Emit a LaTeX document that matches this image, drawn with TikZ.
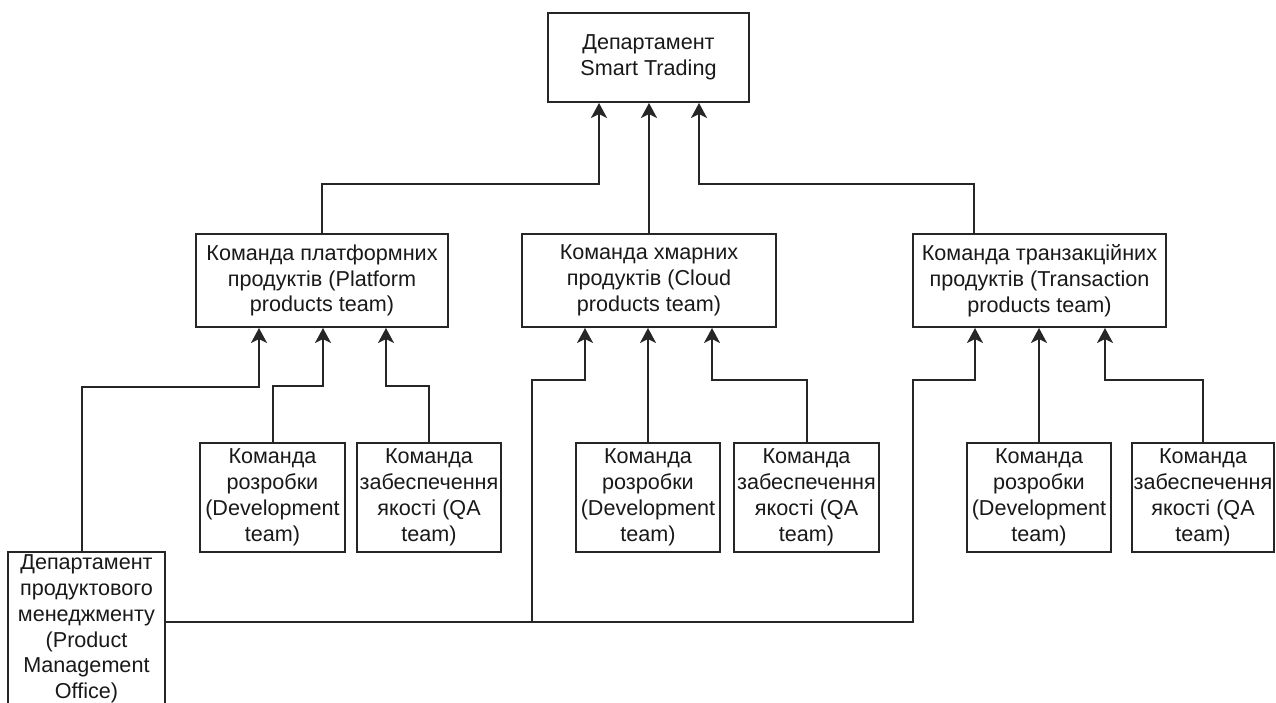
\documentclass[tikz,border=0pt]{standalone}
\usepackage{fontspec}
\setmainfont{Liberation Sans}
\usetikzlibrary{arrows.meta,calc}

\tikzset{
  box/.style={draw=black!85, line width=2pt, fill=white, inner sep=0pt,
    align=center, text=black!90, font=\fontsize{21.6}{25.8}\selectfont},
  link/.style={draw=black!85, line width=2pt},
  arr/.style={link, -{Stealth[length=15pt, width=16pt, inset=4pt]}}
}

\begin{document}
\begin{tikzpicture}[x=1pt, y=-1pt]
\useasboundingbox (0,0) rectangle (1276,703);

% department
\node[box, minimum width=201pt, minimum height=89pt] (top) at (648.5,57.5)
  {Департамент\\Smart Trading};

% product teams
\node[box, minimum width=252pt, minimum height=93pt] (plat) at (322,280.5)
  {Команда платформних\\продуктів (Platform\\products team)};
\node[box, minimum width=254pt, minimum height=93pt] (cloud) at (649,280.5)
  {Команда хмарних\\продуктів (Cloud\\products team)};
\node[box, minimum width=253pt, minimum height=93pt] (trans) at (1039.5,280.5)
  {Команда транзакційних\\продуктів (Transaction\\products team)};

% development and QA teams
\node[box, minimum width=145pt, minimum height=109pt] (dev1) at (272.5,497.5)
  {Команда\\розробки\\(Development\\team)};
\node[box, minimum width=144pt, minimum height=109pt] (qa1) at (429,497.5)
  {Команда\\забеспечення\\якості (QA\\team)};
\node[box, minimum width=144pt, minimum height=109pt] (dev2) at (648,497.5)
  {Команда\\розробки\\(Development\\team)};
\node[box, minimum width=145pt, minimum height=109pt] (qa2) at (806.5,497.5)
  {Команда\\забеспечення\\якості (QA\\team)};
\node[box, minimum width=144pt, minimum height=109pt] (dev3) at (1039,497.5)
  {Команда\\розробки\\(Development\\team)};
\node[box, minimum width=142pt, minimum height=109pt] (qa3) at (1203,497.5)
  {Команда\\забеспечення\\якості (QA\\team)};

% product management office
\node[box, minimum width=157pt, minimum height=154pt] (pmo) at (86.5,629)
  {Департамент\\продуктового\\менеджменту\\(Product\\Management\\Office)};

% elbow points
\coordinate (e1) at (599,184);
\coordinate (e3) at (699,184);
\coordinate (p1) at (259,387);
\coordinate (p2) at (323,386);
\coordinate (p3) at (386,386);
\coordinate (c1) at (585,380);
\coordinate (c3) at (712,380);
\coordinate (t1) at (975,380);
\coordinate (t3) at (1105,380);
\coordinate (pmoR) at ($(pmo.east)+(0,-7)$);
\coordinate (j1) at (532,0);
\coordinate (j2) at (913,0);

% teams to department
\draw[arr] (plat.north) |- (e1) -- (e1 |- top.south);
\draw[arr] (cloud.north) -- (cloud.north |- top.south);
\draw[arr] ($(trans.north)+(-65.5,0)$) |- (e3) -- (e3 |- top.south);

% platform products
\draw[arr] ($(pmo.north)+(-4.5,0)$) |- (p1) -- (p1 |- plat.south);
\draw[arr] (dev1.north) |- (p2) -- (p2 |- plat.south);
\draw[arr] (qa1.north) |- (p3) -- (p3 |- plat.south);

% cloud products
\draw[arr] (pmoR) -- (pmoR -| j1) |- (c1) -- (c1 |- cloud.south);
\draw[arr] (dev2.north) -- (dev2.north |- cloud.south);
\draw[arr] (qa2.north) |- (c3) -- (c3 |- cloud.south);

% transaction products
\draw[arr] (pmoR) -- (pmoR -| j2) |- (t1) -- (t1 |- trans.south);
\draw[arr] (dev3.north) -- (dev3.north |- trans.south);
\draw[arr] (qa3.north) |- (t3) -- (t3 |- trans.south);
\end{tikzpicture}
\end{document}
